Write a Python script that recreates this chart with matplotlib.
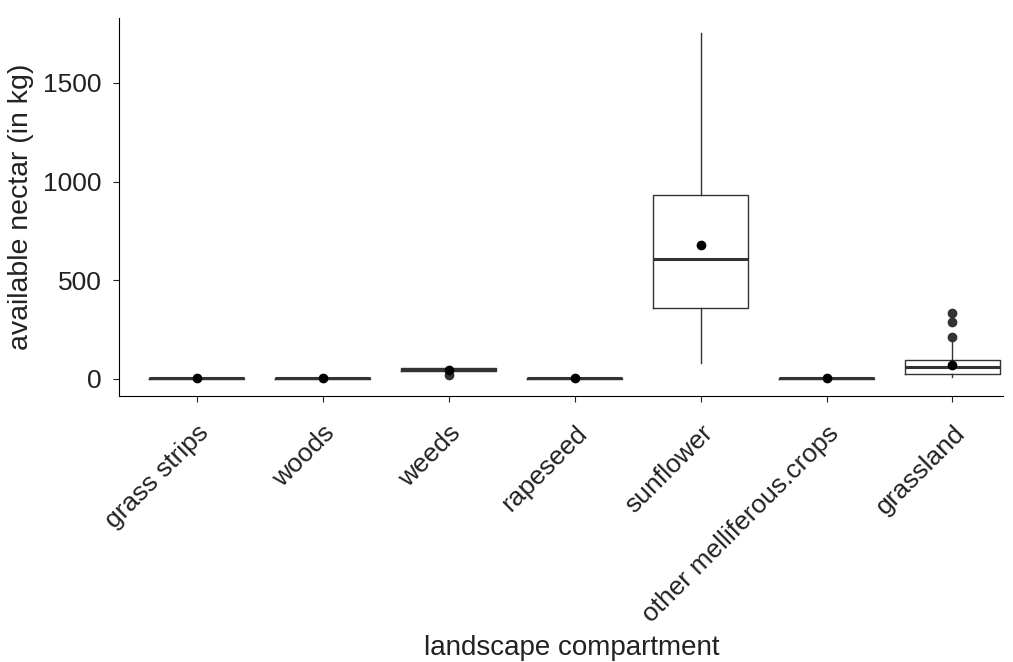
import matplotlib.pyplot as plt

plt.rcParams['font.family'] = ['Liberation Sans', 'DejaVu Sans']

# Box statistics (kg)
compartments = ['grass strips', 'woods', 'weeds', 'rapeseed', 'sunflower',
                'other melliferous.crops', 'grassland']
q1 = [0, 0, 38, 0, 360, 0, 25]
median = [3, 3, 45, 3, 609, 3, 61]
q3 = [6, 6, 55, 6, 934, 6, 96]
whisker_low = [0, 0, 30, 0, 81, 0, 8]
whisker_high = [8, 8, 58, 8, 1751, 8, 190]
means = [3, 3, 45, 3, 680, 3, 71]
outliers = [[], [], [18], [], [], [], [213, 290, 335]]

stats = []
for i, name in enumerate(compartments):
    stats.append({
        'label': name,
        'q1': q1[i], 'med': median[i], 'q3': q3[i],
        'whislo': whisker_low[i], 'whishi': whisker_high[i],
        'fliers': outliers[i], 'mean': means[i],
    })

fig, ax = plt.subplots(figsize=(10.13, 6.62), dpi=100)
positions = list(range(1, len(compartments) + 1))
ax.bxp(stats, positions=positions, widths=0.75, showcaps=False, showmeans=False,
       boxprops=dict(color='#333333', linewidth=1.0),
       whiskerprops=dict(color='#333333', linewidth=1.0),
       medianprops=dict(color='#333333', linewidth=2.2),
       flierprops=dict(marker='o', markerfacecolor='#333333', markeredgecolor='#333333',
                       markersize=6))
ax.scatter(positions, means, color='black', s=36, zorder=5)

ax.set_xlim(0.38, 7.4)
ax.set_ylim(-86, 1830)
ax.set_yticks([0, 500, 1000, 1500])
ax.set_xticks(positions)
ax.set_xticklabels(compartments, rotation=45, ha='right', rotation_mode='anchor')
ax.tick_params(labelsize=19, colors='#222222', length=4)
ax.tick_params(axis='y', pad=8)
ax.tick_params(axis='x', pad=14)
ax.set_ylabel('available nectar (in kg)', fontsize=20.5, color='#222222', labelpad=7)
ax.set_xlabel('landscape compartment', fontsize=20, color='#222222', va='baseline')
ax.xaxis.set_label_coords(0.512, -0.685)
for side in ['top', 'right']:
    ax.spines[side].set_visible(False)

plt.subplots_adjust(left=0.117, right=0.99, top=0.973, bottom=0.402)
plt.savefig('out.png')
